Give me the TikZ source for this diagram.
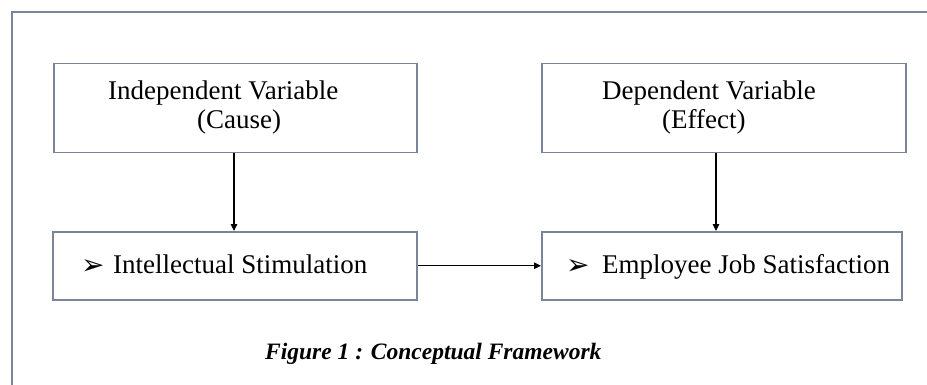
\documentclass[tikz,border=0pt]{standalone}
\usepackage{fontspec}
\setmainfont{Liberation Serif}
\newfontfamily\symfont{DejaVu Sans}
\usetikzlibrary{arrows.meta}
\definecolor{framecol}{HTML}{7A8597}
\begin{document}
\begin{tikzpicture}[x=1pt,y=-1pt,
  box/.style={draw=framecol, line width=1.5pt, inner sep=0pt, anchor=north west},
  arr/.style={draw=black, line width=1.1pt, -{Triangle[length=7pt,width=6.5pt]}},
  txt/.style={anchor=base west, inner sep=0pt, font=\fontsize{27}{31}\selectfont},
  bul/.style={anchor=base west, inner sep=0pt, font=\symfont\fontsize{28}{30}\selectfont},
  captxt/.style={anchor=base west, inner sep=0pt, font=\fontsize{23.5}{28}\selectfont\bfseries\itshape}]
\useasboundingbox (0,0) rectangle (927,385);
\fill[white] (0,0) rectangle (927,385);
% outer frame
\draw[framecol, line width=2pt] (11.7,385) -- (11.7,11.7) -- (927,11.7);
% boxes
\node[box, minimum width=363pt, minimum height=89pt] (b1) at (53,63) {};
\node[box, minimum width=364pt, minimum height=89pt] (b2) at (541,63) {};
\node[box, minimum width=364pt, minimum height=68pt] (b3) at (52,231) {};
\node[box, minimum width=360pt, minimum height=68pt] (b4) at (541,231) {};
% texts
\node[txt] (t1) at (108,100) {Independent Variable};
\node[txt] (t2) at (197,129) {(Cause)};
\node[txt] (t3) at (602,100) {Dependent Variable};
\node[txt] (t4) at (662,129) {(Effect)};
\node[bul] (s1) at (81,274) {➢};
\node[txt] (t5) at (113,273) {Intellectual Stimulation};
\node[bul] (s2) at (566,274) {➢};
\node[txt] (t6) at (602,273) {Employee Job Satisfaction};
\node[captxt] (c1) at (265,359) {Figure 1 : Conceptual Framework};
% connectors
\draw[arr] (b1.south -| 234,0) -- (b3.north -| 234,0);
\draw[arr] (b2.south -| 716,0) -- (b4.north -| 716,0);
\draw[arr] (b3.east) -- (b4.west);
\end{tikzpicture}
\end{document}
